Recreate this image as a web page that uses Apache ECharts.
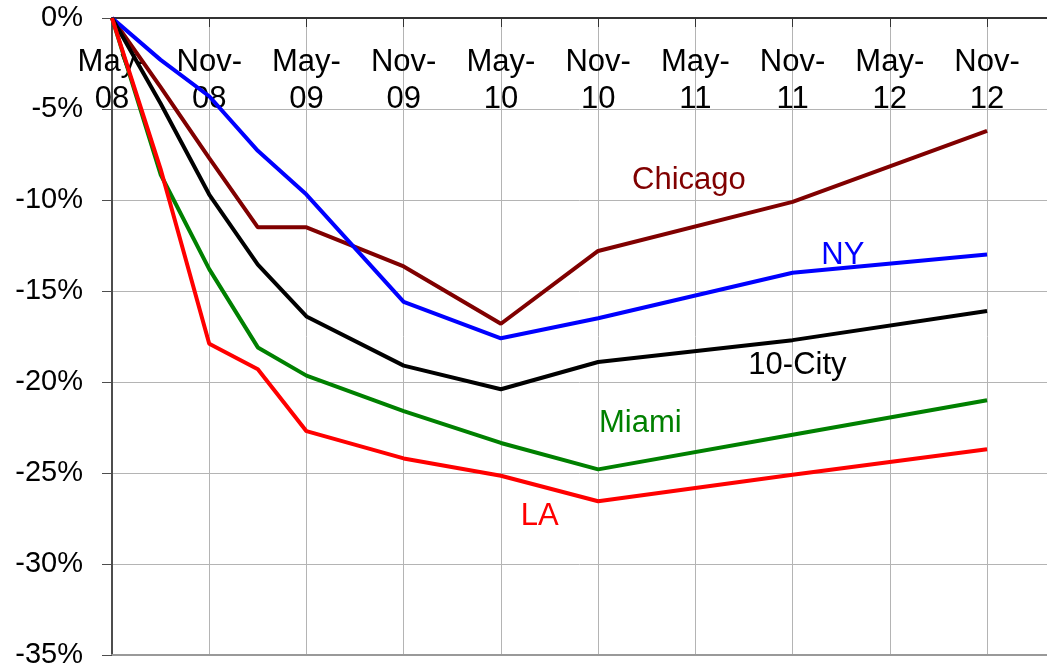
<!DOCTYPE html>
<html>
<head>
<meta charset="utf-8">
<title>Home prices from peak</title>
<script src="https://cdn.jsdelivr.net/npm/echarts@6/dist/echarts.min.js"></script>
<style>
	html, body { margin: 0; padding: 0; background: #fff; overflow: hidden; }
	#chart { width: 1047px; height: 670px; }
</style>
</head>
<body>
<div id="chart"></div>
<script>
// months since May-08
var months = [0, 3, 6, 9, 12, 18, 24, 30, 42, 54];
var xTickLabels = ['May-\n08', 'Nov-\n08', 'May-\n09', 'Nov-\n09', 'May-\n10', 'Nov-\n10', 'May-\n11', 'Nov-\n11', 'May-\n12', 'Nov-\n12'];

var chicago = [0, -3.8, -7.7, -11.5, -11.5, -13.65, -16.8, -12.8, -10.1, -6.2];
var ny = [0, -2.3, -4.3, -7.3, -9.7, -15.6, -17.6, -16.5, -14.0, -13.0];
var tenCity = [0, -4.7, -9.7, -13.55, -16.4, -19.1, -20.4, -18.9, -17.7, -16.1];
var miami = [0, -8.6, -13.8, -18.1, -19.65, -21.6, -23.35, -24.8, -22.9, -21.0];
var la = [0, -8.3, -17.9, -19.3, -22.7, -24.2, -25.15, -26.55, -25.1, -23.7];

var seriesNames = ['Chicago', 'NY', '10-City', 'Miami', 'LA'];
var seriesColors = ['#800000', '#0000ff', '#000000', '#008000', '#ff0000'];
// where each name is written, in [month, %]
var labelAt = [[35.6, -8.9], [45.1, -13.05], [42.3, -19.1], [32.6, -22.3], [26.4, -27.4]];

var FONT = '"Liberation Sans", Arial, sans-serif';

function pairs(xs, ys) {
	var out = [];
	for (var i = 0; i < xs.length; i++) out.push([xs[i], ys[i]]);
	return out;
}

function makeLine(idx, values) {
	return {
		name: seriesNames[idx],
		type: 'line',
		xAxisIndex: 0,
		data: pairs(months, values),
		showSymbol: false,
		symbol: 'none',
		lineStyle: { color: seriesColors[idx], width: 4 },
		itemStyle: { color: seriesColors[idx] },
		markPoint: {
			symbol: 'circle',
			symbolSize: 1,
			itemStyle: { color: 'transparent' },
			label: {
				show: true,
				position: 'inside',
				formatter: seriesNames[idx],
				color: seriesColors[idx],
				fontFamily: FONT,
				fontSize: 31
			},
			data: [{ coord: labelAt[idx] }]
		}
	};
}

var myChart = echarts.init(document.getElementById('chart'));
var option = {
	animation: false,
	backgroundColor: '#fff',
	grid: { left: 112, top: 18, right: 0, bottom: 15, containLabel: false },
	xAxis: [
		{
			type: 'value',
			position: 'top',
			min: 0,
			max: 57.7,
			interval: 6,
			axisLine: { show: true, onZero: false, lineStyle: { color: '#333', width: 2 } },
			axisTick: { show: true, inside: true, length: 9, lineStyle: { color: '#333' } },
			axisLabel: {
				inside: true,
				margin: 26,
				fontFamily: FONT,
				fontSize: 31,
				lineHeight: 37,
				color: '#000',
				showMaxLabel: false,
				formatter: function (v) {
					return v % 6 === 0 && xTickLabels[v / 6] ? xTickLabels[v / 6] : '';
				}
			},
			splitLine: { show: true, lineStyle: { color: '#b4b4b4', width: 1 } }
		},
		{
			// bottom border of the plot
			type: 'value',
			position: 'bottom',
			min: 0,
			max: 57.7,
			interval: 6,
			axisLine: { show: true, onZero: false, lineStyle: { color: '#999', width: 2 } },
			axisTick: { show: false },
			axisLabel: { show: false },
			splitLine: { show: false }
		}
	],
	yAxis: {
		type: 'value',
		min: -35,
		max: 0,
		interval: 5,
		axisLine: { show: true, onZero: false, lineStyle: { color: '#4d4d4d', width: 2 } },
		axisTick: { show: true, length: 10, lineStyle: { color: '#4d4d4d' } },
		axisLabel: {
			margin: 29,
			fontFamily: FONT,
			fontSize: 29,
			color: '#000',
			formatter: function (v) { return v + '%'; }
		},
		splitLine: { show: true, lineStyle: { color: '#b4b4b4', width: 1 } }
	},
	series: [
		makeLine(0, chicago),
		makeLine(1, ny),
		makeLine(2, tenCity),
		makeLine(3, miami),
		makeLine(4, la)
	]
};
myChart.setOption(option);
</script>
</body>
</html>
